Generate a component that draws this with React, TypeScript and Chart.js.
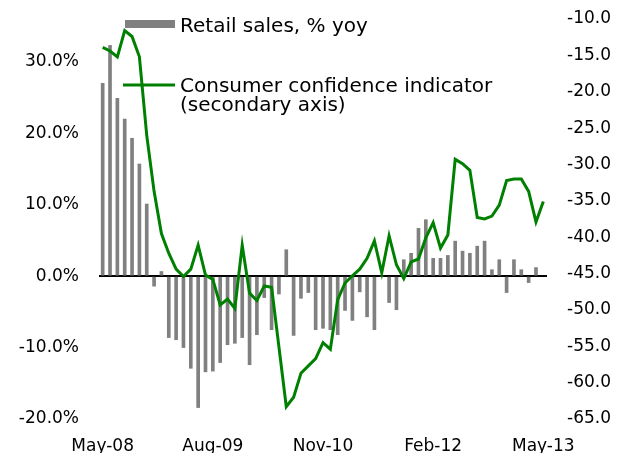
import React, { useEffect, useRef } from "react";
import { Chart, registerables } from "chart.js";

Chart.register(...registerables);

const MONTHS = ["Jan", "Feb", "Mar", "Apr", "May", "Jun", "Jul", "Aug", "Sep", "Oct", "Nov", "Dec"];
const START_MONTH = 4; // May
const START_YEAR = 2008;
const N_MONTHS = 61;
const categories: string[] = Array.from({ length: N_MONTHS }, (_, i) => {
  const m = (START_MONTH + i) % 12;
  const y = START_YEAR + Math.floor((START_MONTH + i) / 12);
  return `${MONTHS[m]}-${String(y % 100).padStart(2, "0")}`;
});

const retailSales: (number | null)[] = [
  27.0, 32.3, 24.9, 22.0, 19.3, 15.7, 10.1, -1.4, 0.65, -8.6,
  -8.9, -10.0, -12.9, -18.4, -13.4, -13.3, -12.1, -9.6, -9.4, -8.6,
  -12.4, -8.2, -3.0, -7.5, -2.5, 3.7, -8.3, -3.1, -2.3, -7.5,
  -7.3, -7.5, -8.2, -4.8, -6.2, -2.2, -5.7, -7.5, 0.0, -3.7,
  -4.7, 2.3, 3.2, 6.7, 7.9, 2.5, 2.5, 2.9, 4.9, 3.5,
  3.2, 4.2, 4.9, 0.9, 2.3, -2.3, 2.3, 0.9, -0.9, 1.2,
  null,
];

const consumerConfidence: number[] = [
  -13.9, -14.4, -15.2, -11.6, -12.4, -15.2, -26.0, -33.7, -39.5, -42.2,
  -44.4, -45.4, -44.4, -41.1, -45.2, -45.8, -49.3, -48.5, -49.8, -41.1,
  -47.7, -48.7, -46.7, -46.9, -55.1, -63.3, -62.0, -58.7, -57.7, -56.7,
  -54.5, -55.4, -48.6, -46.3, -45.3, -44.4, -42.9, -40.5, -44.9, -39.8,
  -43.8, -45.7, -43.4, -43.0, -40.1, -38.0, -41.5, -39.7, -29.3, -29.9,
  -30.8, -37.3, -37.5, -37.1, -35.6, -32.2, -32.0, -32.0, -33.7, -37.9,
  -35.1,
];

const shownTickIndices = [0, 15, 30, 45, 60];
const legendRetail = "Retail sales, % yoy";
const legendConfidence = ["Consumer confidence indicator", "(secondary axis)"];

const BAR_COLOR = "#808080";
const LINE_COLOR = "#008000";
const FONT = "DejaVu Sans";

const legendPlugin = {
  id: "customLegend",
  afterDraw(chart: any) {
    const ctx = chart.ctx as CanvasRenderingContext2D;
    ctx.save();
    ctx.fillStyle = BAR_COLOR;
    ctx.fillRect(125, 20, 50, 8);
    ctx.strokeStyle = LINE_COLOR;
    ctx.lineWidth = 3;
    ctx.beginPath();
    ctx.moveTo(123, 85);
    ctx.lineTo(175, 85);
    ctx.stroke();
    ctx.fillStyle = "#000";
    ctx.font = `20px "${FONT}"`;
    ctx.textAlign = "left";
    ctx.textBaseline = "alphabetic";
    ctx.fillText(legendRetail, 180, 32);
    ctx.fillText(legendConfidence[0], 180, 92);
    ctx.fillText(legendConfidence[1], 180, 111);
    ctx.restore();
  },
};

const noVPad = (width: number) => (s: any) => {
  s.width = width;
  s.paddingTop = 0;
  s.paddingBottom = 0;
};

export default function App() {
  const canvasRef = useRef<HTMLCanvasElement | null>(null);

  useEffect(() => {
    if (!canvasRef.current) return;
    const chart = new Chart(canvasRef.current, {
      type: "bar",
      data: {
        labels: categories,
        datasets: [
          {
            type: "line",
            label: legendConfidence.join(" "),
            data: consumerConfidence,
            yAxisID: "y1",
            borderColor: LINE_COLOR,
            backgroundColor: LINE_COLOR,
            borderWidth: 3,
            pointRadius: 0,
            tension: 0,
            order: 0,
          } as any,
          {
            type: "bar",
            label: legendRetail,
            data: retailSales,
            yAxisID: "y",
            backgroundColor: BAR_COLOR,
            barThickness: 3,
            order: 1,
          },
        ],
      },
      options: {
        animation: false,
        responsive: true,
        maintainAspectRatio: false,
        layout: { padding: { top: 19, left: 0, right: 0, bottom: 0 } },
        plugins: {
          legend: { display: false },
          tooltip: { enabled: false },
        },
        scales: {
          x: {
            type: "category",
            offset: true,
            grid: { display: false, drawTicks: false },
            border: { display: false },
            ticks: {
              autoSkip: false,
              maxRotation: 0,
              minRotation: 0,
              padding: 17,
              color: "#000",
              font: { family: FONT, size: 17 },
              callback: (_v: any, i: number) => (shownTickIndices.includes(i) ? categories[i] : null),
            },
            afterFit: (s: any) => {
              s.height = 34;
              s.paddingLeft = 0;
              s.paddingRight = 0;
            },
          },
          y: {
            position: "left",
            min: -20,
            max: 36,
            grid: {
              drawTicks: false,
              color: (c: any) => (c.tick && c.tick.value === 0 ? "#000" : "rgba(0,0,0,0)"),
              lineWidth: 2,
            },
            border: { display: false },
            ticks: {
              stepSize: 10,
              padding: 20,
              color: "#000",
              font: { family: FONT, size: 17 },
              callback: (v: any) => (Number(v) % 10 === 0 ? `${Number(v).toFixed(1)}%` : null),
            },
            afterFit: noVPad(99),
          },
          y1: {
            position: "right",
            min: -65,
            max: -10,
            grid: { display: false, drawTicks: false },
            border: { display: false },
            ticks: {
              stepSize: 5,
              padding: 20,
              color: "#000",
              font: { family: FONT, size: 17 },
              callback: (v: any) => Number(v).toFixed(1),
            },
            afterFit: noVPad(82),
          },
        },
      },
      plugins: [legendPlugin],
    });
    return () => chart.destroy();
  }, []);

  return (
    <div style={{ position: "fixed", left: 0, top: 0, width: 629, height: 453, background: "#fff" }}>
      <canvas ref={canvasRef} />
    </div>
  );
}
